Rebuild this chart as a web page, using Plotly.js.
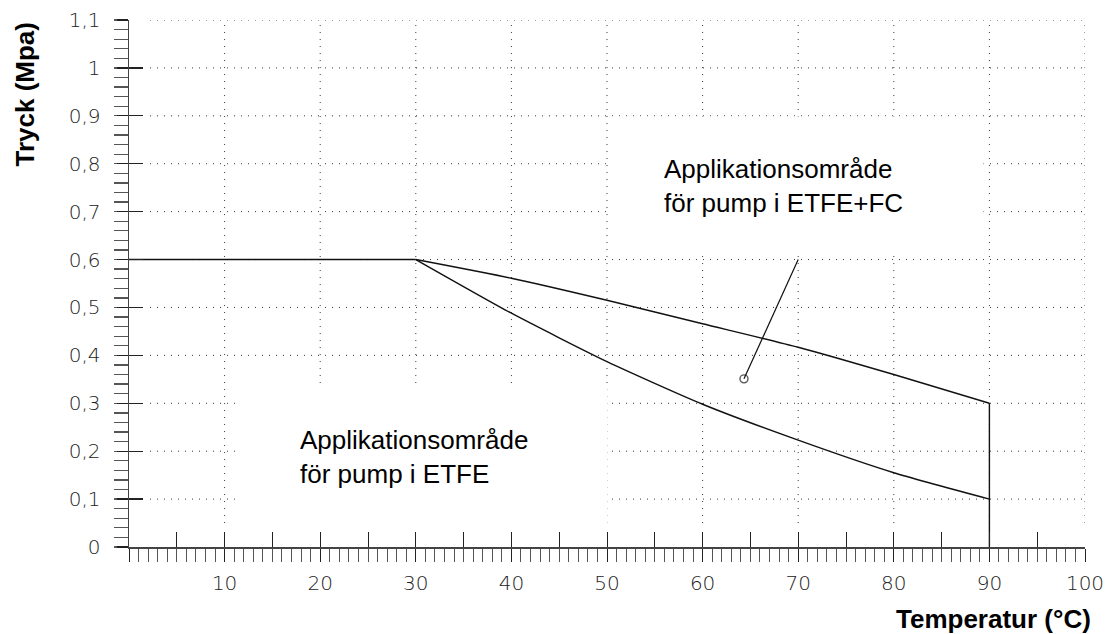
<!DOCTYPE html>
<html>
<head>
<meta charset="utf-8">
<script src="https://cdn.plot.ly/plotly-3.0.1.min.js"></script>
<style>html,body{margin:0;padding:0;background:#fff}#chart{width:1116px;height:634px}</style>
</head>
<body>
<div id="chart"></div>
<script>
// ---- data ----
const flatTemp = [0, 30];
const flatPressure = [0.6, 0.6];

const etfeTemp = [30, 40, 50, 60, 70, 80, 90];
const etfePressure = [0.6, 0.488, 0.387, 0.298, 0.223, 0.155, 0.1];

const fcTemp = [30, 40, 50, 60, 70, 80, 90];
const fcPressure = [0.6, 0.561, 0.515, 0.466, 0.417, 0.36, 0.3];

const limitTemp = [90, 90];
const limitPressure = [0.3, 0];

const pointerTemp = [64.33, 70];
const pointerPressure = [0.351, 0.6];

const xTickVals = [0, 10, 20, 30, 40, 50, 60, 70, 80, 90, 100];
const xTickText = ['', '10', '20', '30', '40', '50', '60', '70', '80', '90', '100'];
const xMidTickVals = [5, 10, 15, 20, 25, 30, 35, 40, 45, 50, 55, 60, 65, 70, 75, 80, 85, 90, 95, 100];

const yTickVals = [0, 0.1, 0.2, 0.3, 0.4, 0.5, 0.6, 0.7, 0.8, 0.9, 1.0, 1.1];
const yTickText = ['0', '0,1', '0,2', '0,3', '0,4', '0,5', '0,6', '0,7', '0,8', '0,9', '1', '1,1'];

const labelEtfe = 'Applikationsområde<br>för pump i ETFE';
const labelFc = 'Applikationsområde<br>för pump i ETFE+FC';
const xTitle = 'Temperatur (°C)';
const yTitle = 'Tryck (Mpa)';

// ---- styles ----
const lineStyle = {color: '#111', width: 1.4};
const tickFont = {family: 'DejaVu Sans', size: 20, color: '#222', weight: 300};
const titleFont = {family: 'Liberation Sans, Arial, sans-serif', size: 26, color: '#000', weight: 'bold'};
const textFont = {family: 'Liberation Sans, Arial, sans-serif', size: 26, color: '#000'};
const gridLine = {color: '#333', width: 1, dash: '1px,6px'};
const xMin = 0, xMax = 100, yMin = 0, yMax = 1.1;
const gridGapX = 2.2;   // horizontal grid starts a little right of the y axis
const gridGapY = 0.05;  // vertical grid stops a little above the x axis

const traces = [
  {x: flatTemp, y: flatPressure, mode: 'lines', line: lineStyle, hoverinfo: 'skip'},
  {x: etfeTemp, y: etfePressure, mode: 'lines', line: Object.assign({shape: 'spline', smoothing: 0.6}, lineStyle), hoverinfo: 'skip'},
  {x: fcTemp, y: fcPressure, mode: 'lines', line: Object.assign({shape: 'spline', smoothing: 0.6}, lineStyle), hoverinfo: 'skip'},
  {x: limitTemp, y: limitPressure, mode: 'lines', line: lineStyle, hoverinfo: 'skip'},
  {x: pointerTemp, y: pointerPressure, mode: 'lines+markers', line: {color: '#111', width: 1.2},
   marker: {symbol: 'circle-open', size: [8, 0], color: '#111', line: {width: 1.4}}, hoverinfo: 'skip'},
  {x: [], y: [], xaxis: 'x2', yaxis: 'y2', hoverinfo: 'skip'}
];

// dotted grid built from the tick arrays
const shapes = [];
yTickVals.filter(v => v > yMin).forEach(v => shapes.push({
  type: 'line', xref: 'x', yref: 'y', x0: gridGapX, x1: xMax, y0: v, y1: v, layer: 'below', line: gridLine
}));
xTickVals.filter(v => v > xMin).forEach(v => shapes.push({
  type: 'line', xref: 'x', yref: 'y', x0: v, x1: v, y0: gridGapY, y1: yMax, layer: 'below', line: gridLine
}));

const layout = {
  width: 1116, height: 634,
  margin: {l: 129, r: 31, t: 20, b: 87},
  paper_bgcolor: '#fff', plot_bgcolor: '#fff',
  showlegend: false,
  xaxis: {
    range: [xMin, xMax], tickmode: 'array', tickvals: xTickVals, ticktext: xTickText,
    ticks: 'outside', ticklen: 13, tickwidth: 1, tickcolor: '#222',
    minor: {ticks: 'outside', tick0: 0, dtick: 1, ticklen: 13, tickwidth: 1, tickcolor: '#555', showgrid: false},
    showline: true, linecolor: '#444', linewidth: 1.5, zeroline: false, showgrid: false,
    tickfont: tickFont, ticklabelstandoff: 4, fixedrange: true
  },
  yaxis: {
    range: [yMin, yMax], tickmode: 'array', tickvals: yTickVals, ticktext: yTickText,
    ticks: 'outside', ticklen: 11, tickwidth: 1.3, tickcolor: '#222',
    minor: {ticks: 'outside', tick0: 0, dtick: 0.02, ticklen: 14, tickwidth: 1.3, tickcolor: '#555', showgrid: false},
    showline: true, linecolor: '#444', linewidth: 1.5, zeroline: false, showgrid: false,
    tickfont: tickFont, ticklabelstandoff: 12, fixedrange: true
  },
  xaxis2: {
    overlaying: 'x', anchor: 'y2', side: 'bottom', range: [xMin, xMax],
    tickmode: 'array', tickvals: xMidTickVals, ticks: 'inside', ticklen: 15, tickwidth: 1, tickcolor: '#222',
    showticklabels: false, showgrid: false, showline: false, zeroline: false, fixedrange: true
  },
  yaxis2: {
    overlaying: 'y', anchor: 'x2', side: 'left', range: [yMin, yMax],
    tickmode: 'array', tickvals: yTickVals, ticks: 'inside', ticklen: 14, tickwidth: 1.3, tickcolor: '#222',
    showticklabels: false, showgrid: false, showline: false, zeroline: false, fixedrange: true
  },
  shapes: shapes,
  annotations: [
    // white boxes behind the area labels
    {xref: 'x', yref: 'y', x: 69.8, y: 0.755, text: ' ', showarrow: false, width: 373, height: 137,
     bgcolor: '#fff', borderpad: 0, xanchor: 'center', yanchor: 'middle'},
    {xref: 'x', yref: 'y', x: 30.6, y: 0.19, text: ' ', showarrow: false, width: 371, height: 134,
     bgcolor: '#fff', borderpad: 0, xanchor: 'center', yanchor: 'middle'},
    {xref: 'x', yref: 'y', x: 55.75, y: 0.7537, text: labelFc, showarrow: false, align: 'left',
     xanchor: 'left', yanchor: 'middle', font: textFont},
    {xref: 'x', yref: 'y', x: 17.68, y: 0.188, text: labelEtfe, showarrow: false, align: 'left',
     xanchor: 'left', yanchor: 'middle', font: textFont},
    {xref: 'paper', yref: 'paper', x: -0.1088, y: 0.8605, text: yTitle, textangle: -90, showarrow: false,
     xanchor: 'center', yanchor: 'middle', font: titleFont},
    {xref: 'paper', yref: 'paper', x: 1.0084, y: -0.1366, text: xTitle, showarrow: false,
     xanchor: 'right', yanchor: 'middle', font: titleFont}
  ]
};

Plotly.newPlot('chart', traces, layout, {staticPlot: true, displayModeBar: false});
</script>
</body>
</html>
